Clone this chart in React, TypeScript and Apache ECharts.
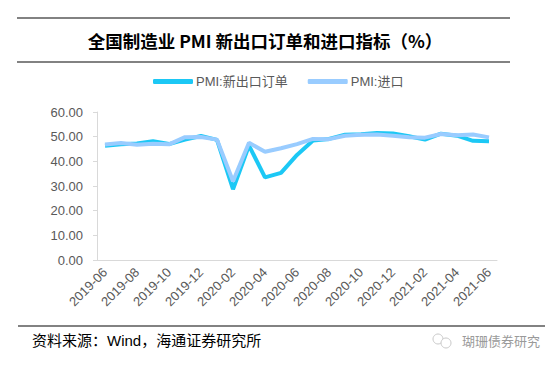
import React, { useEffect, useRef } from "react";
import * as echarts from "echarts";

const categories = [
  "2019-06", "2019-07", "2019-08", "2019-09", "2019-10", "2019-11", "2019-12",
  "2020-01", "2020-02", "2020-03", "2020-04", "2020-05", "2020-06", "2020-07",
  "2020-08", "2020-09", "2020-10", "2020-11", "2020-12", "2021-01", "2021-02",
  "2021-03", "2021-04", "2021-05", "2021-06",
];
const exportOrders = [
  46.3, 46.9, 47.2, 48.2, 47.0, 48.8, 50.3, 48.7, 28.7, 46.4, 33.5, 35.3, 42.6,
  48.4, 49.1, 50.8, 51.0, 51.5, 51.3, 50.2, 48.8, 51.2, 50.4, 48.3, 48.1,
];
const imports = [
  46.8, 47.4, 46.7, 47.1, 46.9, 49.8, 49.9, 48.8, 31.9, 47.5, 43.9, 45.3, 47.0,
  49.1, 49.0, 50.4, 50.8, 50.9, 50.4, 49.8, 49.6, 51.1, 50.6, 50.9, 49.7,
];
const seriesNames = ["PMI:新出口订单", "PMI:进口"];
const title = "全国制造业 PMI 新出口订单和进口指标（%）";
const source = "资料来源：Wind，海通证券研究所";
const watermark = "瑚珊债券研究";

export default function App() {
  const ref = useRef<HTMLDivElement>(null);
  useEffect(() => {
    document.body.style.margin = "0";
    const chart = echarts.init(ref.current!, null, { renderer: "svg" });
    const cjk = "'Noto Sans CJK SC', sans-serif";
    const latin = "'Liberation Sans', Arial, 'Noto Sans CJK SC', sans-serif";
    chart.setOption({
      animation: false,
      backgroundColor: "#ffffff",
      graphic: [
        { type: "line", shape: { x1: 17, y1: 18, x2: 510, y2: 18 }, style: { stroke: "#595959", lineWidth: 1.5 } },
        { type: "line", shape: { x1: 17, y1: 62, x2: 510, y2: 62 }, style: { stroke: "#595959", lineWidth: 1.5 } },
        {
          type: "text", x: 265, y: 40,
          style: { text: title, font: `bold 17.5px ${cjk}`, fill: "#000", textAlign: "center", textVerticalAlign: "middle" },
        },
        { type: "line", shape: { x1: 18, y1: 326, x2: 545, y2: 326 }, style: { stroke: "#595959", lineWidth: 1.5 } },
        {
          type: "text", x: 32, y: 340,
          style: { text: source, font: `15px ${latin}`, fill: "#000", textAlign: "left", textVerticalAlign: "middle" },
        },
        { type: "circle", shape: { cx: 438, cy: 339, r: 5 }, style: { fill: "none", stroke: "#c8c8c8", lineWidth: 1 } },
        { type: "circle", shape: { cx: 446, cy: 343, r: 5 }, style: { fill: "#fff", stroke: "#c8c8c8", lineWidth: 1 } },
        {
          type: "text", x: 462, y: 340,
          style: { text: watermark, font: `13px ${cjk}`, fill: "#9a9a9a", textAlign: "left", textVerticalAlign: "middle" },
        },
      ],
      legend: {
        top: 70,
        left: 148,
        itemWidth: 40,
        itemHeight: 5,
        itemGap: 20,
        icon: "roundRect",
        textStyle: { fontSize: 13, color: "#595959", fontFamily: latin, padding: [0, 0, 0, -2] },
        data: seriesNames,
      },
      grid: { left: 97, top: 112, width: 400, height: 148 },
      xAxis: {
        type: "category",
        data: categories,
        boundaryGap: true,
        axisLine: { lineStyle: { color: "#d9d9d9" } },
        axisTick: { interval: 1, lineStyle: { color: "#d9d9d9" }, length: 4 },
        axisLabel: { interval: 1, rotate: 45, fontSize: 13, color: "#595959", fontFamily: latin, margin: 10 },
      },
      yAxis: {
        type: "value",
        min: 0,
        max: 60,
        interval: 10,
        axisLine: { show: true, lineStyle: { color: "#d9d9d9" } },
        axisTick: { show: true, lineStyle: { color: "#d9d9d9" }, length: 4 },
        splitLine: { show: false },
        axisLabel: {
          fontSize: 13, color: "#595959", fontFamily: latin, margin: 14,
          formatter: (v: number) => v.toFixed(2),
        },
      },
      series: [
        {
          name: seriesNames[0], type: "line", data: exportOrders, showSymbol: false,
          itemStyle: { color: "#1cc8f5" }, lineStyle: { color: "#1cc8f5", width: 4 },
        },
        {
          name: seriesNames[1], type: "line", data: imports, showSymbol: false,
          itemStyle: { color: "#99ccff" }, lineStyle: { color: "#99ccff", width: 4 },
        },
      ],
    });
    return () => chart.dispose();
  }, []);
  return <div ref={ref} style={{ width: 558, height: 368 }} />;
}
